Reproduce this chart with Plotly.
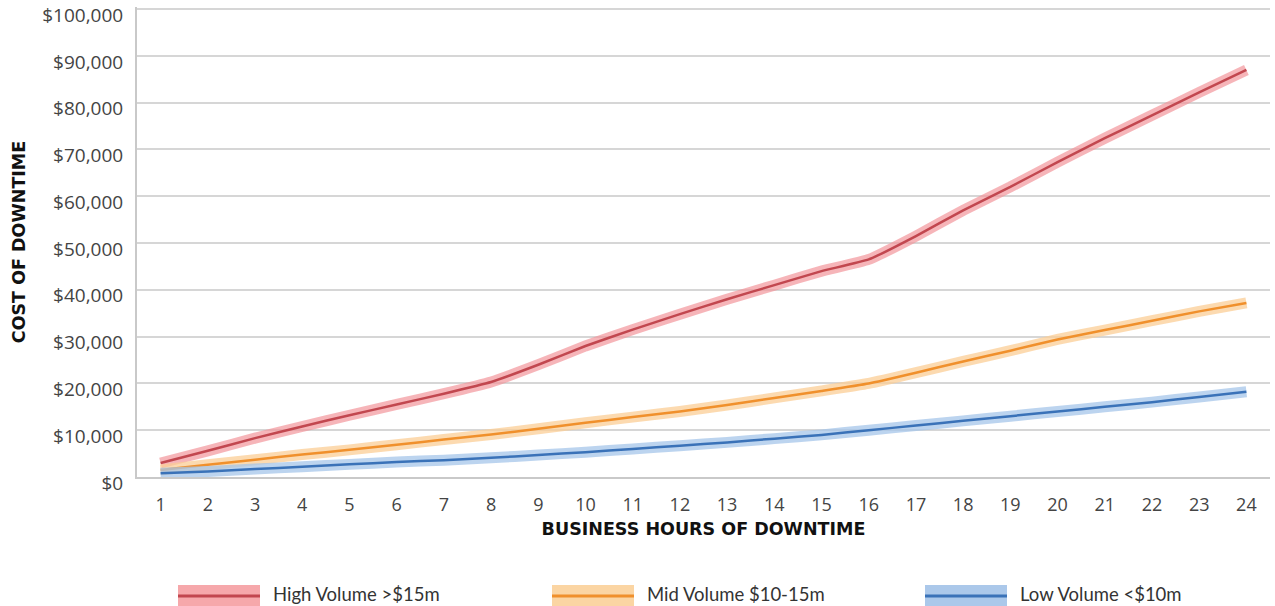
import plotly.graph_objects as go

hours = list(range(1, 25))
high_volume = [3000, 5600, 8300, 10800, 13200, 15500, 17800, 20300, 24000, 28000, 31500, 34800,
               38000, 41000, 44000, 46500, 51500, 57000, 62000, 67300, 72400, 77300, 82200, 87000]
mid_volume = [1500, 2600, 3700, 4800, 5800, 6900, 8000, 9100, 10300, 11600, 12800, 14000,
              15400, 16900, 18400, 20000, 22300, 24700, 27000, 29400, 31400, 33400, 35400, 37200]
low_volume = [800, 1200, 1700, 2200, 2700, 3200, 3600, 4100, 4700, 5300, 6000, 6700,
              7400, 8200, 9000, 10000, 11000, 12000, 13000, 14000, 15000, 16000, 17100, 18200]
series_names = ["High Volume >$15m", "Mid Volume $10-15m", "Low Volume <$10m"]
y_tickvals = [0, 10000, 20000, 30000, 40000, 50000, 60000, 70000, 80000, 90000, 100000]
y_ticktext = ["$0", "$10,000", "$20,000", "$30,000", "$40,000", "$50,000",
              "$60,000", "$70,000", "$80,000", "$90,000", "$100,000"]

core_colors = ["#c2474f", "#f0902c", "#3a72b8"]
glow_colors = ["rgba(242,150,155,0.7)", "rgba(251,205,150,0.75)", "rgba(165,197,233,0.75)"]
legend_fill = ["#f6a8ab", "#fbd5a3", "#abc8ea"]

W, H = 1275, 606
L, R, T, B = 137, 5, 7, 129

fig = go.Figure()
for vals, core, glow in zip([high_volume, mid_volume, low_volume], core_colors, glow_colors):
    fig.add_trace(go.Scatter(x=hours, y=vals, mode="lines",
                             line=dict(color=glow, width=11, shape="spline", smoothing=0.4),
                             showlegend=False, hoverinfo="skip"))
    fig.add_trace(go.Scatter(x=hours, y=vals, mode="lines",
                             line=dict(color=core, width=2.5, shape="spline", smoothing=0.4),
                             showlegend=False))

# manual legend (pixel -> paper coordinates)
pw, ph = W - L - R, H - T - B
def px(x):
    return (x - L) / pw
def py(y):
    return (H - B - y) / ph

legend_x = [178, 552, 925]
shapes = []
annotations = []
for i in range(3):
    x0 = legend_x[i]
    shapes.append(dict(type="rect", xref="paper", yref="paper",
                       x0=px(x0), x1=px(x0 + 82), y0=py(606), y1=py(585),
                       fillcolor=legend_fill[i], line=dict(width=0), layer="above"))
    shapes.append(dict(type="line", xref="paper", yref="paper",
                       x0=px(x0), x1=px(x0 + 82), y0=py(596), y1=py(596),
                       line=dict(color=core_colors[i], width=3), layer="above"))
    annotations.append(dict(text=series_names[i], xref="paper", yref="paper",
                            x=px(x0 + 93), y=py(594), xanchor="left", yanchor="middle",
                            showarrow=False, font=dict(family="Lato", size=18.5, color="#333333")))

fig.update_layout(
    width=W, height=H,
    margin=dict(l=L, r=R, t=T, b=B, autoexpand=False),
    paper_bgcolor="white", plot_bgcolor="white",
    shapes=shapes, annotations=annotations,
    showlegend=False,
    xaxis=dict(range=[0.5, 24.5], tickmode="array", tickvals=hours,
               ticktext=[str(h) for h in hours], automargin=False,
               showgrid=False, zeroline=False, showline=True, linecolor="#c9c9c9", linewidth=2,
               ticks="", ticklabelstandoff=10,
               tickfont=dict(family="Open Sans", size=18, color="#444444"),
               title=dict(text="<b>BUSINESS HOURS OF DOWNTIME</b>", standoff=8,
                          font=dict(family="DejaVu Sans", size=17.5, color="#111111"))),
    yaxis=dict(range=[0, 100450], tickmode="array", tickvals=y_tickvals, ticktext=y_ticktext,
               automargin=False,
               showgrid=True, gridcolor="#d6d6d6", gridwidth=2,
               zeroline=False, showline=True, linecolor="#c9c9c9", linewidth=2,
               ticks="", ticklabelstandoff=8, ticklabeloverflow="allow", ticklabelshift=6,
               tickfont=dict(family="Open Sans", size=19, color="#444444"),
               title=dict(text="<b>COST OF DOWNTIME</b>", standoff=12,
                          font=dict(family="DejaVu Sans", size=17.5, color="#111111"))),
)

fig.write_html("out.html")
